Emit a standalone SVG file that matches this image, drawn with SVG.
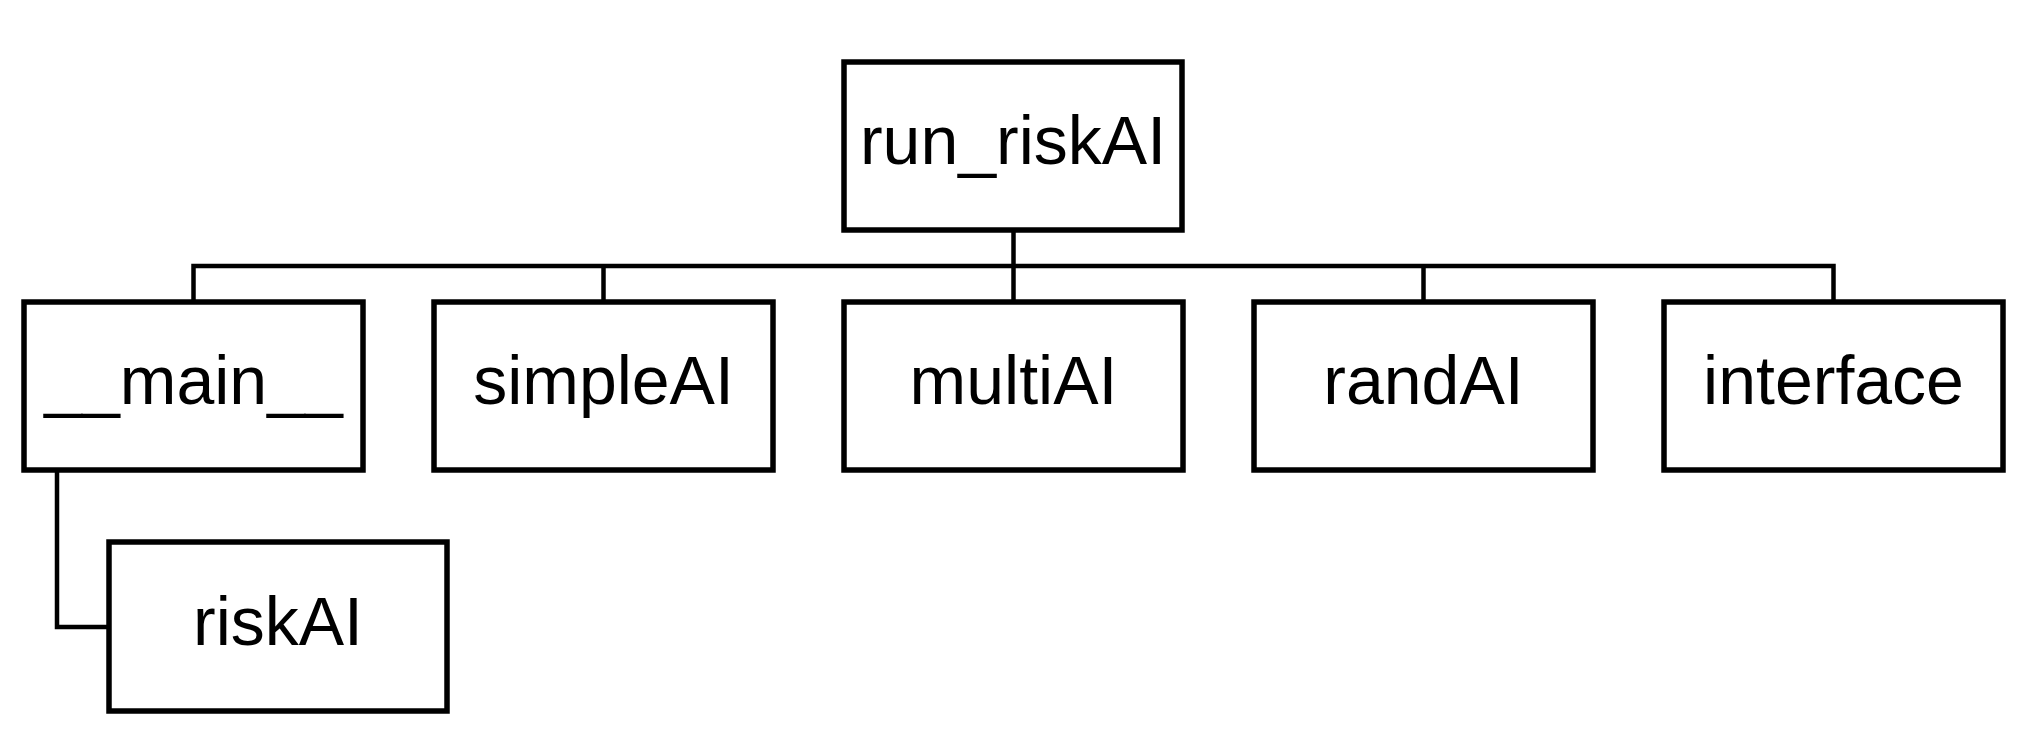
<svg xmlns="http://www.w3.org/2000/svg" width="2018" height="754" viewBox="0 0 2018 754">
<style>
.box{fill:#fff;stroke:#000;stroke-width:5.5}
.lbl{font-family:"Liberation Sans",Arial,sans-serif;font-size:68px;fill:#000;text-anchor:middle}
.conn{fill:none;stroke:#000;stroke-width:4.5}
</style>
<rect width="2018" height="754" fill="#fff"/>
<g id="connectors">
<path class="conn" d="M193.5,302 V266 H1833.5 V302"/>
<path class="conn" d="M1013.5,230 V302"/>
<path class="conn" d="M603.5,266 V302"/>
<path class="conn" d="M1423.5,266 V302"/>
<path class="conn" d="M57,470 V627 H109"/>
</g>
<g id="run_riskAI"><rect class="box" x="844" y="62" width="338" height="168"/><text class="lbl" x="1013" y="164">run_riskAI</text></g>
<g id="main"><rect class="box" x="24" y="302" width="339" height="168"/><text class="lbl" x="193.5" y="404">__main__</text></g>
<g id="simpleAI"><rect class="box" x="434" y="302" width="339" height="168"/><text class="lbl" x="603.5" y="404">simpleAI</text></g>
<g id="multiAI"><rect class="box" x="844" y="302" width="339" height="168"/><text class="lbl" x="1013.5" y="404">multiAI</text></g>
<g id="randAI"><rect class="box" x="1254" y="302" width="339" height="168"/><text class="lbl" x="1423.5" y="404">randAI</text></g>
<g id="interface"><rect class="box" x="1664" y="302" width="339" height="168"/><text class="lbl" x="1833.5" y="404">interface</text></g>
<g id="riskAI"><rect class="box" x="109" y="542" width="338" height="169"/><text class="lbl" x="278" y="645">riskAI</text></g>
</svg>
